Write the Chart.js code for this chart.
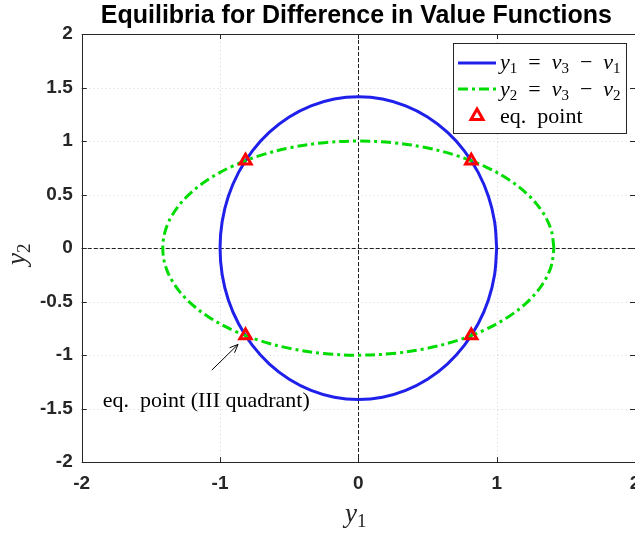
<!DOCTYPE html>
<html>
<head>
<meta charset="utf-8">
<script src="https://cdn.jsdelivr.net/npm/chart.js@4.4.1/dist/chart.umd.min.js"></script>
<style>
  html, body { margin: 0; padding: 0; background: #fff; overflow: hidden; }
  #wrap { width: 660px; height: 533px; }
</style>
</head>
<body>
<div id="wrap"><canvas id="eq" width="660" height="533"></canvas></div>
<script>
/*
CURVE DATA
*/
// y1 = v3 - v1 curve, traced every 10 degrees around the loop
const blueX = [1, 0.985, 0.94, 0.866, 0.766, 0.643, 0.5, 0.342, 0.174, 0, -0.174, -0.342, -0.5, -0.643, -0.766, -0.866, -0.94, -0.985,
  -1, -0.985, -0.94, -0.866, -0.766, -0.643, -0.5, -0.342, -0.174, 0, 0.174, 0.342, 0.5, 0.643, 0.766, 0.866, 0.94, 0.985, 1];
const blueY = [0, 0.246, 0.484, 0.707, 0.909, 1.083, 1.225, 1.329, 1.393, 1.414, 1.393, 1.329, 1.225, 1.083, 0.909, 0.707, 0.484, 0.246,
  0, -0.246, -0.484, -0.707, -0.909, -1.083, -1.225, -1.329, -1.393, -1.414, -1.393, -1.329, -1.225, -1.083, -0.909, -0.707, -0.484, -0.246, 0];

// y2 = v3 - v2 curve
const greenX = [1.414, 1.393, 1.329, 1.225, 1.083, 0.909, 0.707, 0.484, 0.246, 0, -0.246, -0.484, -0.707, -0.909, -1.083, -1.225, -1.329, -1.393,
  -1.414, -1.393, -1.329, -1.225, -1.083, -0.909, -0.707, -0.484, -0.246, 0, 0.246, 0.484, 0.707, 0.909, 1.083, 1.225, 1.329, 1.393, 1.414];
const greenY = [0, 0.174, 0.342, 0.5, 0.643, 0.766, 0.866, 0.94, 0.985, 1, 0.985, 0.94, 0.866, 0.766, 0.643, 0.5, 0.342, 0.174,
  0, -0.174, -0.342, -0.5, -0.643, -0.766, -0.866, -0.94, -0.985, -1, -0.985, -0.94, -0.866, -0.766, -0.643, -0.5, -0.342, -0.174, 0];

// equilibrium points (intersections)
const eqX = [0.816, -0.816, -0.816, 0.816];
const eqY = [0.816, 0.816, -0.816, -0.816];

// tick labels
const xTicks = [-2, -1, 0, 1, 2];
const yTicks = [-2, -1.5, -1, -0.5, 0, 0.5, 1, 1.5, 2];

const BLUE = 'rgb(32, 32, 235)';
const GREEN = 'rgb(0, 220, 0)';
const RED = 'rgb(255, 0, 0)';
const AXIS = '#262626';
const SERIF = '"Liberation Serif", "DejaVu Serif", serif';
const SANS = '"Liberation Sans", Arial, sans-serif';

function pairs(xs, ys) {
  return xs.map((x, i) => ({ x: x, y: ys[i] }));
}

// draws a run of math pieces: [text, kind] with kind i = italic, r = roman, s = subscript
function drawMath(ctx, parts, x, y, size) {
  for (let p of parts) {
    let txt = p[0], kind = p[1];
    if (kind === 's') {
      ctx.font = Math.round(size * 0.7) + 'px ' + SERIF;
      ctx.fillText(txt, x, y + size * 0.2);
    } else {
      ctx.font = (kind === 'i' ? 'italic ' : '') + size + 'px ' + SERIF;
      ctx.fillText(txt, x, y);
    }
    x += ctx.measureText(txt).width;
  }
  return x;
}

/*
EXTRA DRAWING
*/
const decor = {
  id: 'decor',
  beforeDatasetsDraw(chart) {
    const ctx = chart.ctx;
    const a = chart.chartArea;
    const sx = chart.scales.x, sy = chart.scales.y;
    ctx.save();
    // dotted grid
    ctx.strokeStyle = '#d6d6d6';
    ctx.lineWidth = 1;
    ctx.setLineDash([1, 3]);
    for (let v of xTicks) {
      let px = Math.round(sx.getPixelForValue(v)) + 0.5;
      ctx.beginPath(); ctx.moveTo(px, a.top); ctx.lineTo(px, a.bottom); ctx.stroke();
    }
    for (let v of yTicks) {
      let py = Math.round(sy.getPixelForValue(v)) + 0.5;
      ctx.beginPath(); ctx.moveTo(a.left, py); ctx.lineTo(a.right, py); ctx.stroke();
    }
    // dashed zero lines
    ctx.strokeStyle = '#222';
    ctx.setLineDash([4, 2]);
    let x0 = Math.round(sx.getPixelForValue(0)) + 0.5;
    let y0 = Math.round(sy.getPixelForValue(0)) + 0.5;
    ctx.beginPath(); ctx.moveTo(x0, a.top); ctx.lineTo(x0, a.bottom); ctx.stroke();
    ctx.beginPath(); ctx.moveTo(a.left, y0); ctx.lineTo(a.right, y0); ctx.stroke();
    ctx.restore();
  },
  afterDatasetsDraw(chart) {
    const ctx = chart.ctx;
    const a = chart.chartArea;
    const sx = chart.scales.x, sy = chart.scales.y;
    ctx.save();
    ctx.setLineDash([]);

    // box and inward ticks
    ctx.strokeStyle = AXIS;
    ctx.lineWidth = 1;
    ctx.strokeRect(Math.round(a.left) + 0.5, Math.round(a.top) + 0.5, Math.round(a.right - a.left), Math.round(a.bottom - a.top));
    const tl = 5;
    for (let v of xTicks) {
      let px = Math.round(sx.getPixelForValue(v)) + 0.5;
      ctx.beginPath();
      ctx.moveTo(px, a.bottom); ctx.lineTo(px, a.bottom - tl);
      ctx.moveTo(px, a.top); ctx.lineTo(px, a.top + tl);
      ctx.stroke();
    }
    for (let v of yTicks) {
      let py = Math.round(sy.getPixelForValue(v)) + 0.5;
      ctx.beginPath();
      ctx.moveTo(a.left, py); ctx.lineTo(a.left + tl, py);
      ctx.moveTo(a.right, py); ctx.lineTo(a.right - tl, py);
      ctx.stroke();
    }

    // title
    let cx = sx.getPixelForValue(0);
    ctx.fillStyle = '#000';
    ctx.font = 'bold 25px ' + SANS;
    ctx.textAlign = 'center';
    ctx.textBaseline = 'middle';
    ctx.fillText('Equilibria for Difference in Value Functions', cx - 2, 16);

    // axis titles
    ctx.textAlign = 'left';
    ctx.textBaseline = 'alphabetic';
    ctx.fillStyle = '#262626';
    drawMath(ctx, [['y', 'i'], ['1', 's']], 345, 522, 27);
    ctx.save();
    ctx.translate(25, 265);
    ctx.rotate(-Math.PI / 2);
    drawMath(ctx, [['y', 'i'], ['2', 's']], 0, 0, 27);
    ctx.restore();

    // legend
    let lx = 453, ly = 43, lw = 173, lh = 90;
    ctx.fillStyle = '#fff';
    ctx.fillRect(lx, ly, lw, lh);
    ctx.strokeStyle = '#262626';
    ctx.lineWidth = 1;
    ctx.strokeRect(lx + 0.5, ly + 0.5, lw, lh);
    ctx.lineWidth = 3;
    ctx.strokeStyle = BLUE;
    ctx.beginPath(); ctx.moveTo(458, 63); ctx.lineTo(496, 63); ctx.stroke();
    ctx.strokeStyle = GREEN;
    ctx.setLineDash([10, 4, 3, 4]);
    ctx.beginPath(); ctx.moveTo(458, 89); ctx.lineTo(496, 89); ctx.stroke();
    ctx.setLineDash([]);
    ctx.strokeStyle = RED;
    ctx.lineWidth = 3;
    ctx.lineJoin = 'miter';
    ctx.beginPath(); ctx.moveTo(477, 109); ctx.lineTo(483, 119.5); ctx.lineTo(471, 119.5); ctx.closePath(); ctx.stroke();
    ctx.fillStyle = '#000';
    drawMath(ctx, [['y', 'i'], ['1', 's'], ['  =  ', 'r'], ['v', 'i'], ['3', 's'], ['  \u2212  ', 'r'], ['v', 'i'], ['1', 's']], 500, 69, 22);
    drawMath(ctx, [['y', 'i'], ['2', 's'], ['  =  ', 'r'], ['v', 'i'], ['3', 's'], ['  \u2212  ', 'r'], ['v', 'i'], ['2', 's']], 500, 96, 22);
    ctx.font = '22px ' + SERIF;
    ctx.fillText('eq.  point', 500, 123);

    // annotation for the third-quadrant point
    let hx = sx.getPixelForValue(-0.87), hy = sy.getPixelForValue(-0.9);
    let tx = sx.getPixelForValue(-1.06), ty = sy.getPixelForValue(-1.14);
    ctx.strokeStyle = '#000';
    ctx.lineWidth = 1;
    ctx.beginPath(); ctx.moveTo(tx, ty); ctx.lineTo(hx, hy); ctx.stroke();
    let ang = Math.atan2(hy - ty, hx - tx);
    ctx.beginPath();
    ctx.moveTo(hx - 9 * Math.cos(ang - 0.4), hy - 9 * Math.sin(ang - 0.4));
    ctx.lineTo(hx, hy);
    ctx.lineTo(hx - 9 * Math.cos(ang + 0.4), hy - 9 * Math.sin(ang + 0.4));
    ctx.stroke();
    ctx.font = '22px ' + SERIF;
    ctx.textAlign = 'center';
    ctx.textBaseline = 'middle';
    ctx.fillText('eq.  point (III quadrant)', sx.getPixelForValue(-1.1), sy.getPixelForValue(-1.43));

    ctx.restore();
  }
};

/*
CHART
*/
const canvasEq = document.getElementById('eq');

const dataEq = {
  datasets: [{
    label: 'y1 = v3 - v1',
    data: pairs(blueX, blueY),
    showLine: true,
    borderColor: BLUE,
    borderWidth: 3,
    pointRadius: 0,
    tension: 0.35,
    order: 3
  }, {
    label: 'y2 = v3 - v2',
    data: pairs(greenX, greenY),
    showLine: true,
    borderColor: GREEN,
    borderWidth: 3,
    borderDash: [10, 4, 3, 4],
    pointRadius: 0,
    tension: 0.35,
    order: 2
  }, {
    label: 'eq. point',
    data: pairs(eqX, eqY),
    showLine: false,
    pointStyle: 'triangle',
    pointRadius: 6.5,
    borderWidth: 3,
    borderColor: RED,
    backgroundColor: 'rgba(255,0,0,0)',
    order: 1
  }]
};

const tickFont = { family: SANS, size: 19, weight: 'bold' };

let equilibria = new Chart(canvasEq, {
  type: 'scatter',
  data: dataEq,
  options: {
    responsive: false,
    animation: false,
    devicePixelRatio: 1,
    layout: { padding: { left: 31, top: 34, right: 25, bottom: 28 } },
    plugins: {
      legend: { display: false },
      tooltip: { enabled: false }
    },
    scales: {
      x: {
        min: -2, max: 2,
        afterBuildTicks: s => { s.ticks = xTicks.map(v => ({ value: v })); },
        grid: { display: false, drawTicks: false },
        border: { display: false },
        ticks: { font: tickFont, color: AXIS, padding: 10, maxRotation: 0, callback: v => String(v) }
      },
      y: {
        min: -2, max: 2,
        afterBuildTicks: s => { s.ticks = yTicks.map(v => ({ value: v })); },
        grid: { display: false, drawTicks: false },
        border: { display: false },
        ticks: { font: tickFont, color: AXIS, padding: 9, callback: v => String(v) }
      }
    }
  },
  plugins: [decor]
});
</script>
</body>
</html>
